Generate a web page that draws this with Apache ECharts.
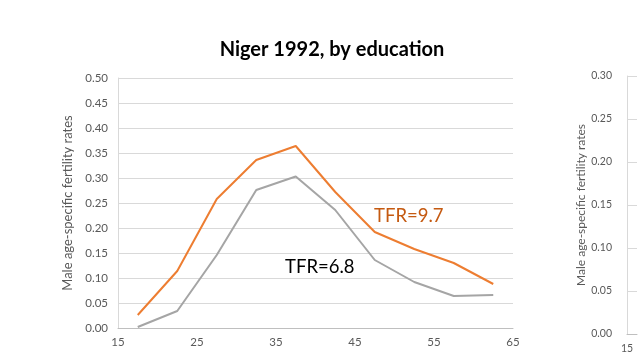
<!DOCTYPE html>
<html><head><meta charset="utf-8">
<script src="https://cdn.jsdelivr.net/npm/echarts@6/dist/echarts.min.js"></script>
<style>html,body{margin:0;padding:0;background:#fff}#c{width:640px;height:360px}</style>
</head><body><div id="c"></div>
<script>
const ages = [17.5, 22.5, 27.5, 32.5, 37.5, 42.5, 47.5, 52.5, 57.5, 62.5];
const noEducation = [0.026, 0.114, 0.258, 0.336, 0.364, 0.272, 0.192, 0.158, 0.130, 0.088];
const allMen = [0.002, 0.034, 0.146, 0.276, 0.303, 0.236, 0.136, 0.092, 0.064, 0.066];
const title = 'Niger 1992, by education';
const yName = 'Male age-specific fertility rates';
const labelOrange = 'TFR=9.7';
const labelGray = 'TFR=6.8';

const font = 'Lato, "Open Sans", sans-serif';
const chart = echarts.init(document.getElementById('c'));
const gridLine = {show: true, lineStyle: {color: '#d9d9d9', width: 1}};
const axisLab = {color: '#595959', fontSize: 11.5, fontFamily: font};
chart.setOption({
  backgroundColor: '#fff',
  animation: false,
  title: {text: title, left: 327, top: 35, textAlign: 'center',
    textStyle: {fontSize: 20, fontWeight: 'bold', color: '#000', fontFamily: font}},
  grid: [
    {left: 118, right: 127, top: 78, bottom: 32},
    {left: 627, right: 0, top: 76, bottom: 26}
  ],
  xAxis: [
    {type: 'value', gridIndex: 0, min: 15, max: 65, interval: 10,
     axisLine: {lineStyle: {color: '#bfbfbf'}}, axisTick: {show: false},
     splitLine: {show: false}, axisLabel: Object.assign({margin: 8}, axisLab)},
    {type: 'value', gridIndex: 1, min: 15, max: 65, interval: 10,
     axisLine: {lineStyle: {color: '#bfbfbf'}}, axisTick: {show: false},
     splitLine: {show: false},
     axisLabel: Object.assign({margin: 9, formatter: v => (v === 15 ? '15' : '')}, axisLab, {fontSize: 10.5})}
  ],
  yAxis: [
    {type: 'value', gridIndex: 0, min: 0, max: 0.5, interval: 0.05,
     axisLine: {show: true, lineStyle: {color: '#d9d9d9'}}, axisTick: {show: false},
     splitLine: gridLine,
     axisLabel: Object.assign({margin: 10, formatter: v => v.toFixed(2)}, axisLab),
     name: yName, nameLocation: 'middle', nameGap: 33,
     nameTextStyle: {color: '#595959', fontSize: 13, fontFamily: font}},
    {type: 'value', gridIndex: 1, min: 0, max: 0.3, interval: 0.05,
     axisLine: {show: true, lineStyle: {color: '#d9d9d9'}}, axisTick: {show: false},
     splitLine: gridLine,
     axisLabel: Object.assign({margin: 15, formatter: v => v.toFixed(2)}, axisLab, {fontSize: 10.5}),
     name: yName, nameLocation: 'middle', nameGap: 34,
     nameTextStyle: {color: '#595959', fontSize: 12, fontFamily: font}}
  ],
  series: [
    {type: 'line', xAxisIndex: 0, yAxisIndex: 0, data: ages.map((a, i) => [a, noEducation[i]]),
     showSymbol: false, lineStyle: {color: '#ED7D31', width: 2}, itemStyle: {color: '#ED7D31'}},
    {type: 'line', xAxisIndex: 0, yAxisIndex: 0, data: ages.map((a, i) => [a, allMen[i]]),
     showSymbol: false, lineStyle: {color: '#A5A5A5', width: 2}, itemStyle: {color: '#A5A5A5'}}
  ],
  graphic: [
    {type: 'text', left: 374, top: 207, style: {text: labelOrange, fill: '#C55A11', font: '18.5px ' + font}},
    {type: 'text', left: 285, top: 258, style: {text: labelGray, fill: '#000', font: '18.5px ' + font}}
  ]
});
</script></body></html>
